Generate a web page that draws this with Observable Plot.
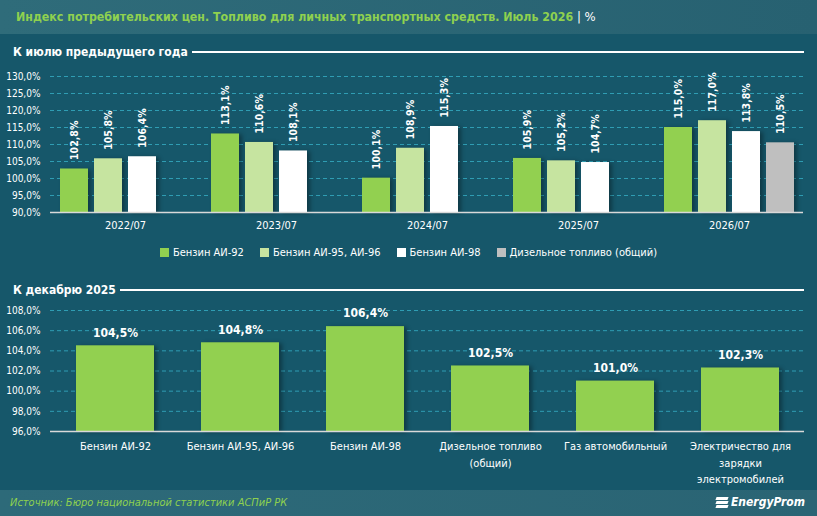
<!DOCTYPE html>
<html><head><meta charset="utf-8">
<script src="https://cdn.jsdelivr.net/npm/d3@7"></script>
<script src="https://cdn.jsdelivr.net/npm/@observablehq/plot@0.6"></script>
<style>
  html,body{margin:0;padding:0;}
  body{width:817px;height:516px;overflow:hidden;background:#16576a;font-family:"DejaVu Sans Condensed","DejaVu Sans",sans-serif;font-stretch:condensed;color:#fff;}
  #root{position:relative;width:817px;height:516px;background:#16576a;}
  #header{position:absolute;left:0;top:0;width:817px;height:34px;background:linear-gradient(to right,#2f6c7a,#276171);}
  #title{position:absolute;left:16px;top:9px;font-size:12.3px;font-weight:bold;color:#8fd14f;white-space:nowrap;}
  #title .unit{color:#fff;font-weight:normal;font-size:13px;}
  .section{position:absolute;left:13px;width:791px;display:flex;align-items:center;font-size:12px;font-weight:bold;}
  .section .ln{flex:1;height:2px;background:#fff;margin-left:4px;}
  .layer{position:absolute;left:0;}
  #legend{position:absolute;left:0;top:246px;width:817px;display:flex;justify-content:center;font-size:11px;}
  #legend .it{display:flex;align-items:center;margin:0 8px;}
  #legend .sw{width:9px;height:9px;margin-right:4px;}
  #footer{position:absolute;left:0;top:490px;width:817px;height:26px;background:linear-gradient(to right,#2d6a79,#2a6474);}
  #source{position:absolute;left:10px;top:6px;font-size:11px;font-style:italic;color:#8fd14f;}
  #logo{position:absolute;right:12px;top:5px;font-size:12px;font-weight:bold;font-style:italic;color:#fff;display:flex;align-items:center;}
  #logo .ic{display:inline-block;width:12px;margin-right:3px;}
  #logo .ic i{display:block;height:3px;background:#fff;margin:1px 0;transform:skewX(-20deg);}
  .bars rect{filter:drop-shadow(3px 1px 2px rgba(0,0,0,0.35));}
</style>
</head><body>
<div id="root">
  <div id="header"><div id="title">Индекс потребительских цен. Топливо для личных транспортных средств. Июль 2026 <span class="unit">| %</span></div></div>
  <div class="section" style="top:45px;"><span>К июлю предыдущего года</span><span class="ln"></span></div>
  <div class="section" style="top:283px;"><span>К декабрю 2025</span><span class="ln"></span></div>
  <div id="legend"></div>
  <div id="footer"><div id="source">Источник: Бюро национальной статистики АСПиР РК</div>
    <div id="logo"><span class="ic"><i></i><i></i><i></i></span>EnergyProm</div></div>
</div>
<script>
// ---- data: chart 1 (к июлю предыдущего года)
const years = ["2022/07","2023/07","2024/07","2025/07","2026/07"];
const series = ["Бензин АИ-92","Бензин АИ-95, АИ-96","Бензин АИ-98","Дизельное топливо (общий)"];
const ai92 = [102.8,113.1,100.1,105.9,115.0];
const ai95 = [105.8,110.6,108.9,105.2,117.0];
const ai98 = [106.4,108.1,115.3,104.7,113.8];
const diesel = [null,null,null,null,110.5];
const seriesColors = ["#92d050","#c6e4a0","#ffffff","#bfbfbf"];
const yDomain1 = [90,130];
const yTicks1 = [90,95,100,105,110,115,120,125,130];

// ---- data: chart 2 (к декабрю 2025)
const products = ["Бензин АИ-92","Бензин АИ-95, АИ-96","Бензин АИ-98","Дизельное топливо\n(общий)","Газ автомобильный","Электричество для\nзарядки\nэлектромобилей"];
const decValues = [104.5,104.8,106.4,102.5,101.0,102.3];
const yDomain2 = [96,108];
const yTicks2 = [96,98,100,102,104,106,108];

const fmt = v => v.toFixed(1).replace(".", ",") + "%";
const font = {fontFamily:'"DejaVu Sans Condensed","DejaVu Sans",sans-serif', fontStretch:"condensed", background:"transparent", color:"#fff", overflow:"visible"};
const gridColor = "#2f9db3";

const root = document.getElementById("root");

// chart 1 table
const seriesArrays = [ai92, ai95, ai98, diesel];
const table1 = [];
years.forEach((y,i) => seriesArrays.forEach((arr,j) => { if (arr[i] != null) table1.push({year:y, series:series[j], value:arr[i]}); }));

const W = 817, H1 = 180, top1 = 60;
const m1 = {marginLeft:50, marginRight:14, marginTop:16, marginBottom:28};

// layer A: grid + y axis
const gridA = Plot.plot({
  width:W, height:H1, ...m1,
  style:{...font, fontSize:"10px"},
  y:{domain:yDomain1, label:null},
  x:{axis:null},
  marks:[
    Plot.gridY(yTicks1.slice(1), {stroke:gridColor, strokeOpacity:1, strokeDasharray:"4,3", strokeWidth:1}),
    Plot.axisY(yTicks1, {tickSize:0, tickPadding:10, tickFormat:fmt, fill:"#fff", fontSize:10, label:null})
  ]
});
gridA.classList.add("layer"); gridA.style.top = top1 + "px";
root.appendChild(gridA);

// layer B: bars faceted by year
const barsB = Plot.plot({
  width:W, height:H1, ...m1,
  style:{...font, fontSize:"11px"},
  y:{domain:yDomain1, axis:null, label:null},
  fx:{domain:years, paddingInner:0.1, paddingOuter:0.04, label:null},
  x:{domain:series, axis:null, paddingInner:0.17, paddingOuter:0.05, label:null},
  color:{domain:series, range:seriesColors},
  marks:[
    Plot.barY(table1, {fx:"year", x:"series", y1:yDomain1[0], y2:"value", fill:"series", className:"bars"}),
    Plot.text(table1, {fx:"year", x:"series", y:"value", text:d => fmt(d.value), rotate:-90, textAnchor:"start", dy:-9, fill:"#fff", fontWeight:"bold", fontSize:10.5}),
    Plot.axisFx({anchor:"bottom", tickSize:0, tickPadding:9, fill:"#fff", fontSize:11, label:null}),
  ]
});
barsB.classList.add("layer"); barsB.style.top = top1 + "px";
root.appendChild(barsB);

// baseline for chart 1 drawn on top
const baseA = Plot.plot({
  width:W, height:H1, ...m1,
  style:{...font}, y:{domain:yDomain1, axis:null}, x:{axis:null},
  marks:[Plot.ruleY([yDomain1[0]], {stroke:"#d9d9d9", strokeWidth:1.5})]
});
baseA.classList.add("layer"); baseA.style.top = top1 + "px";
root.appendChild(baseA);

// legend
const legend = document.getElementById("legend");
series.forEach((s,i) => {
  const it = document.createElement("div"); it.className = "it";
  const sw = document.createElement("span"); sw.className = "sw"; sw.style.background = seriesColors[i];
  const tx = document.createElement("span"); tx.textContent = s;
  it.appendChild(sw); it.appendChild(tx); legend.appendChild(it);
});

// chart 2
const table2 = products.map((p,i) => ({product:p, value:decValues[i]}));
const H2 = 194, top2 = 296;
const chart2 = Plot.plot({
  width:W, height:H2, marginLeft:50, marginRight:13, marginTop:14, marginBottom:59,
  style:{...font, fontSize:"11px"},
  y:{domain:yDomain2, label:null},
  x:{domain:products, paddingInner:0.376, paddingOuter:0.19, label:null},
  marks:[
    Plot.gridY(yTicks2.slice(1), {stroke:gridColor, strokeOpacity:1, strokeDasharray:"4,3", strokeWidth:1}),
    Plot.axisY(yTicks2, {tickSize:0, tickPadding:10, tickFormat:fmt, fill:"#fff", fontSize:10, label:null}),
    Plot.barY(table2, {x:"product", y1:yDomain2[0], y2:"value", fill:"#92d050", className:"bars"}),
    Plot.text(table2, {x:"product", y:"value", text:d => fmt(d.value), dy:-13, fill:"#fff", fontWeight:"bold", fontSize:12}),
    Plot.ruleY([yDomain2[0]], {stroke:"#d9d9d9", strokeWidth:1.5}),
    Plot.axisX({tickSize:0, tickPadding:7, fill:"#fff", fontSize:11, lineHeight:1.5, label:null})
  ]
});
chart2.classList.add("layer"); chart2.style.top = top2 + "px";
root.appendChild(chart2);
</script>
</body></html>
